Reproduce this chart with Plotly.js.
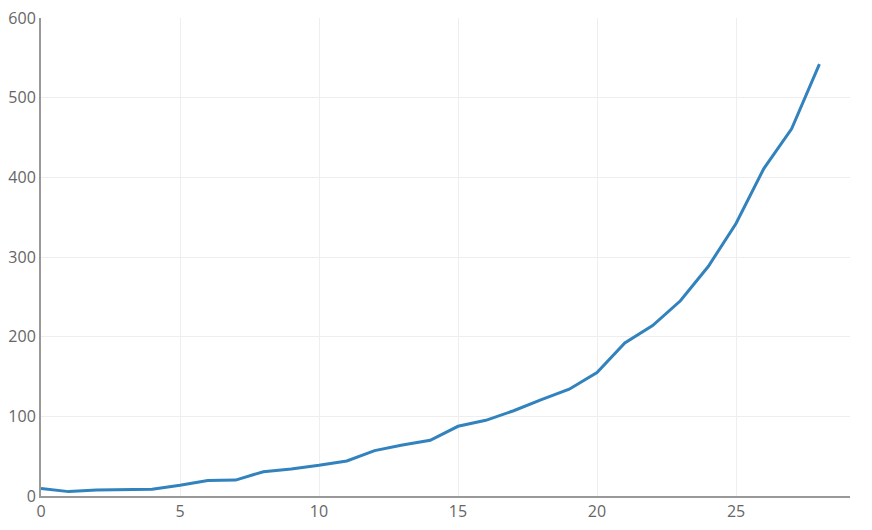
<!DOCTYPE html>
<html>
<head>
<meta charset="utf-8">
<script src="https://cdn.plot.ly/plotly-3.0.1.min.js"></script>
<style>html,body{margin:0;padding:0;background:#fff;}#chart{width:872px;height:530px;}</style>
</head>
<body>
<div id="chart"></div>
<script>
const xValues = [0,1,2,3,4,5,6,7,8,9,10,11,12,13,14,15,16,17,18,19,20,21,22,23,24,25,26,27,28];
const yValues = [9.5,5.5,7.5,8,8.5,13.5,19.5,20,30.5,34,38.5,44,57,64,70,87.5,95,107,121,134,155,192,214,245,288,342,411,461,542];

const trace = {
  x: xValues,
  y: yValues,
  type: 'scatter',
  mode: 'lines',
  line: {color: '#3182bd', width: 3},
  hoverinfo: 'none'
};

const layout = {
  width: 872,
  height: 530,
  margin: {l: 41, r: 22, t: 18, b: 34},
  paper_bgcolor: '#fff',
  plot_bgcolor: '#fff',
  showlegend: false,
  font: {family: '"Open Sans", sans-serif', size: 16, color: '#666'},
  xaxis: {
    range: [0, 29.1],
    dtick: 5,
    showgrid: true,
    gridcolor: '#eee',
    zeroline: false,
    showline: true,
    linecolor: '#999',
    linewidth: 2,
    ticks: '',
    tickfont: {size: 16, color: '#666'}
  },
  yaxis: {
    range: [0, 600],
    dtick: 100,
    showgrid: true,
    gridcolor: '#eee',
    zeroline: false,
    showline: true,
    linecolor: '#999',
    linewidth: 2,
    ticks: '',
    tickfont: {size: 16, color: '#666'}
  }
};

Plotly.newPlot('chart', [trace], layout, {displayModeBar: false, staticPlot: true});
</script>
</body>
</html>
